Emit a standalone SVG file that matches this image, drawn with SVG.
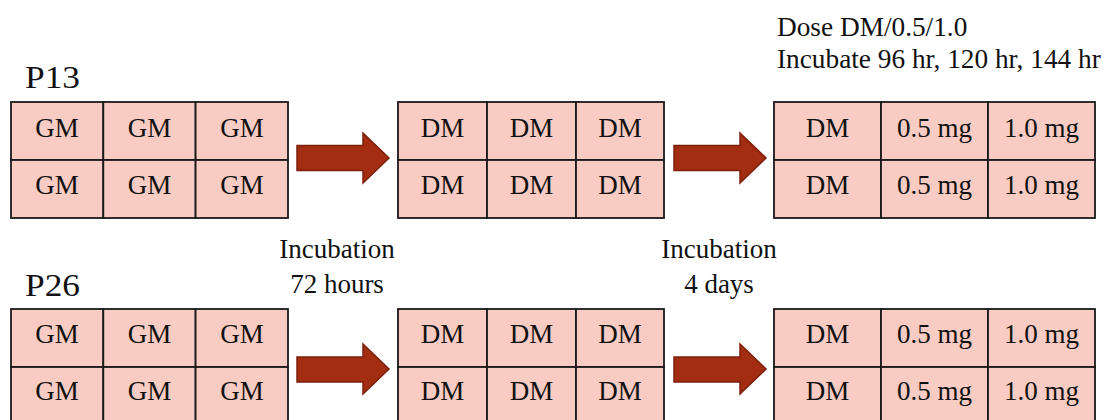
<svg xmlns="http://www.w3.org/2000/svg" width="1107" height="420" viewBox="0 0 1107 420">
<style>
.cell{fill:#F8CCC2;stroke:#1a1a1a;stroke-width:1.8}
.t{font-family:"Liberation Serif","Times New Roman",serif;font-size:27px;fill:#111;text-anchor:middle}
.tl{font-family:"Liberation Serif","Times New Roman",serif;font-size:27.3px;fill:#111}
.big{font-family:"Liberation Serif","Times New Roman",serif;font-size:32px;fill:#111}
.arr{fill:#A22D10;stroke:#7E1F0B;stroke-width:1.5;stroke-linejoin:miter}
</style>
<rect width="1107" height="420" fill="#fff"/>
<text class="big" x="25" y="88" textLength="55" lengthAdjust="spacingAndGlyphs">P13</text>
<text class="big" x="25" y="296" textLength="55" lengthAdjust="spacingAndGlyphs">P26</text>
<g id="dose-label">
<text class="tl" x="777" y="36">Dose DM/0.5/1.0</text>
<text class="tl" x="777" y="68">Incubate 96 hr, 120 hr, 144 hr</text>
</g>
<g id="label-72h">
<text class="t" x="337" y="258">Incubation</text>
<text class="t" x="337" y="293">72 hours</text>
</g>
<g id="label-4d">
<text class="t" x="719" y="258">Incubation</text>
<text class="t" x="719" y="293">4 days</text>
</g>
<g id="p13-gm">
<rect class="cell" x="11" y="102" width="92.3" height="58"/>
<rect class="cell" x="103.3" y="102" width="92.3" height="58"/>
<rect class="cell" x="195.6" y="102" width="92.4" height="58"/>
<rect class="cell" x="11" y="160" width="92.3" height="58"/>
<rect class="cell" x="103.3" y="160" width="92.3" height="58"/>
<rect class="cell" x="195.6" y="160" width="92.4" height="58"/>
<text class="t" x="57" y="137">GM</text><text class="t" x="149.5" y="137">GM</text><text class="t" x="242" y="137">GM</text>
<text class="t" x="57" y="194">GM</text><text class="t" x="149.5" y="194">GM</text><text class="t" x="242" y="194">GM</text>
</g>
<g id="p13-dm">
<rect class="cell" x="398" y="102" width="89" height="58"/>
<rect class="cell" x="487" y="102" width="89" height="58"/>
<rect class="cell" x="576" y="102" width="88" height="58"/>
<rect class="cell" x="398" y="160" width="89" height="58"/>
<rect class="cell" x="487" y="160" width="89" height="58"/>
<rect class="cell" x="576" y="160" width="88" height="58"/>
<text class="t" x="442.5" y="137">DM</text><text class="t" x="531.5" y="137">DM</text><text class="t" x="620" y="137">DM</text>
<text class="t" x="442.5" y="194">DM</text><text class="t" x="531.5" y="194">DM</text><text class="t" x="620" y="194">DM</text>
</g>
<g id="p13-dose">
<rect class="cell" x="774" y="102" width="107" height="58"/>
<rect class="cell" x="881" y="102" width="107" height="58"/>
<rect class="cell" x="988" y="102" width="107" height="58"/>
<rect class="cell" x="774" y="160" width="107" height="58"/>
<rect class="cell" x="881" y="160" width="107" height="58"/>
<rect class="cell" x="988" y="160" width="107" height="58"/>
<text class="t" x="827.5" y="137">DM</text><text class="t" x="934.5" y="137">0.5 mg</text><text class="t" x="1041.5" y="137">1.0 mg</text>
<text class="t" x="827.5" y="194">DM</text><text class="t" x="934.5" y="194">0.5 mg</text><text class="t" x="1041.5" y="194">1.0 mg</text>
</g>
<g id="p26-gm">
<rect class="cell" x="11" y="309" width="92.3" height="58"/>
<rect class="cell" x="103.3" y="309" width="92.3" height="58"/>
<rect class="cell" x="195.6" y="309" width="92.4" height="58"/>
<rect class="cell" x="11" y="367" width="92.3" height="58"/>
<rect class="cell" x="103.3" y="367" width="92.3" height="58"/>
<rect class="cell" x="195.6" y="367" width="92.4" height="58"/>
<text class="t" x="57" y="343">GM</text><text class="t" x="149.5" y="343">GM</text><text class="t" x="242" y="343">GM</text>
<text class="t" x="57" y="400">GM</text><text class="t" x="149.5" y="400">GM</text><text class="t" x="242" y="400">GM</text>
</g>
<g id="p26-dm">
<rect class="cell" x="398" y="309" width="89" height="58"/>
<rect class="cell" x="487" y="309" width="89" height="58"/>
<rect class="cell" x="576" y="309" width="88" height="58"/>
<rect class="cell" x="398" y="367" width="89" height="58"/>
<rect class="cell" x="487" y="367" width="89" height="58"/>
<rect class="cell" x="576" y="367" width="88" height="58"/>
<text class="t" x="442.5" y="343">DM</text><text class="t" x="531.5" y="343">DM</text><text class="t" x="620" y="343">DM</text>
<text class="t" x="442.5" y="400">DM</text><text class="t" x="531.5" y="400">DM</text><text class="t" x="620" y="400">DM</text>
</g>
<g id="p26-dose">
<rect class="cell" x="774" y="309" width="107" height="58"/>
<rect class="cell" x="881" y="309" width="107" height="58"/>
<rect class="cell" x="988" y="309" width="107" height="58"/>
<rect class="cell" x="774" y="367" width="107" height="58"/>
<rect class="cell" x="881" y="367" width="107" height="58"/>
<rect class="cell" x="988" y="367" width="107" height="58"/>
<text class="t" x="827.5" y="343">DM</text><text class="t" x="934.5" y="343">0.5 mg</text><text class="t" x="1041.5" y="343">1.0 mg</text>
<text class="t" x="827.5" y="400">DM</text><text class="t" x="934.5" y="400">0.5 mg</text><text class="t" x="1041.5" y="400">1.0 mg</text>
</g>
<g id="connectors">
<polygon class="arr" points="297,145.5 363,145.5 363,133 389,158 363,183 363,170.5 297,170.5"/>
<polygon class="arr" points="674,145.5 740,145.5 740,133 766,158 740,183 740,170.5 674,170.5"/>
<polygon class="arr" points="297,357 363,357 363,344 389,369 363,394 363,382 297,382"/>
<polygon class="arr" points="674,357 740,357 740,344 766,369 740,394 740,382 674,382"/>
</g>
</svg>
